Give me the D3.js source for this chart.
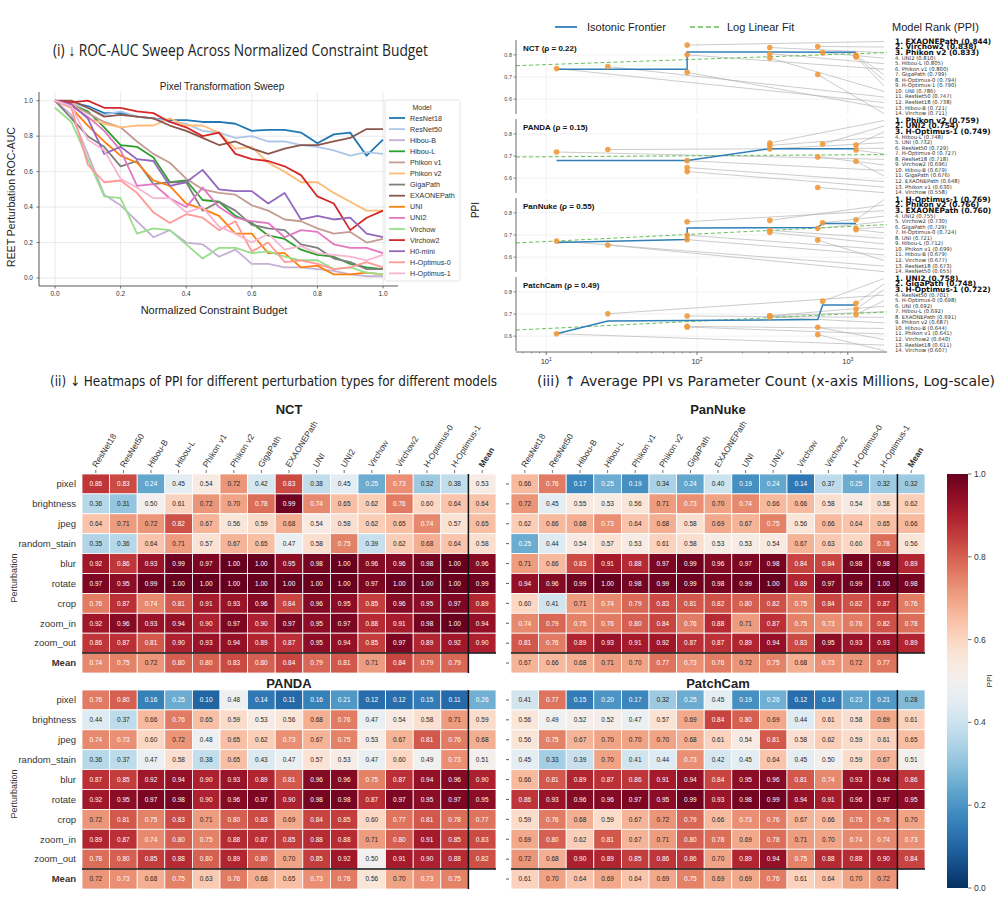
<!DOCTYPE html>
<html>
<head>
<meta charset="utf-8">
<script src="https://d3js.org/d3.v7.min.js"></script>
<style>
  body { margin: 0; background: #fff; }
  svg { font-family: "Liberation Sans", Arial, sans-serif; }
</style>
</head>
<body>
<svg id="fig" width="1000" height="898"></svg>
<script>
// ---------------- data ----------------
const models = ["ResNet18","ResNet50","Hibou-B","Hibou-L","Phikon v1","Phikon v2","GigaPath",
  "EXAONEPath","UNI","UNI2","Virchow","Virchow2","H-Optimus-0","H-Optimus-1"];
const columns = models.concat(["Mean"]);
const perturbations = ["pixel","brightness","jpeg","random_stain","blur","rotate","crop","zoom_in","zoom_out","Mean"];

// (i) sweep
const budget = [0.00,0.05,0.10,0.15,0.20,0.25,0.30,0.35,0.40,0.45,0.50,0.55,0.60,0.65,0.70,0.75,0.80,0.85,0.90,0.95,1.00];
const sweepModels = ["ResNet18","ResNet50","Hibou-B","Hibou-L","Phikon v1","Phikon v2","GigaPath",
  "EXAONEPath","UNI","UNI2","Virchow","Virchow2","H0-mini","H-Optimus-0","H-Optimus-1"];
const sweepResNet18   = [1.00,0.99,0.97,0.93,0.93,0.91,0.90,0.89,0.89,0.88,0.88,0.87,0.83,0.835,0.835,0.82,0.76,0.81,0.82,0.69,0.78];
const sweepResNet50   = [1.00,0.99,0.96,0.92,0.94,0.91,0.90,0.88,0.87,0.83,0.82,0.79,0.80,0.77,0.77,0.75,0.74,0.72,0.69,0.71,0.70];
const sweepHibouB     = [1.00,0.92,0.70,0.47,0.41,0.32,0.23,0.27,0.20,0.19,0.12,0.16,0.08,0.08,0.06,0.06,0.05,0.04,0.02,0.01,0.01];
const sweepHibouL     = [1.00,0.98,0.94,0.85,0.75,0.74,0.68,0.54,0.55,0.44,0.43,0.35,0.31,0.24,0.22,0.16,0.13,0.12,0.08,0.06,0.05];
const sweepPhikonV1   = [1.00,0.98,0.93,0.88,0.85,0.77,0.70,0.65,0.56,0.50,0.48,0.47,0.41,0.38,0.33,0.32,0.28,0.25,0.26,0.20,0.22];
const sweepPhikonV2   = [1.00,0.99,0.90,0.87,0.85,0.86,0.86,0.90,0.86,0.86,0.82,0.73,0.74,0.65,0.60,0.54,0.54,0.48,0.43,0.38,0.38];
const sweepGigaPath   = [1.00,0.90,0.80,0.74,0.63,0.66,0.53,0.54,0.54,0.38,0.43,0.38,0.30,0.28,0.27,0.19,0.17,0.11,0.09,0.05,0.05];
const sweepEXAONEPath = [1.00,1.00,0.96,0.91,0.92,0.91,0.90,0.86,0.83,0.79,0.75,0.77,0.73,0.70,0.73,0.75,0.75,0.77,0.79,0.84,0.84];
const sweepUNI        = [1.00,0.96,0.86,0.77,0.69,0.65,0.55,0.52,0.42,0.39,0.35,0.25,0.25,0.14,0.14,0.06,0.07,0.02,0.02,0.03,0.02];
const sweepUNI2       = [1.00,0.97,0.91,0.83,0.72,0.52,0.53,0.45,0.40,0.51,0.40,0.34,0.32,0.31,0.23,0.27,0.26,0.19,0.17,0.17,0.14];
const sweepVirchow    = [0.96,0.88,0.67,0.46,0.45,0.25,0.28,0.27,0.19,0.11,0.17,0.17,0.14,0.15,0.12,0.10,0.10,0.05,0.06,0.03,0.02];
const sweepVirchow2   = [1.00,0.99,1.00,0.96,0.96,0.94,0.93,0.88,0.85,0.80,0.82,0.70,0.67,0.66,0.63,0.58,0.46,0.42,0.27,0.34,0.38];
const sweepH0mini     = [1.00,0.98,0.90,0.70,0.74,0.67,0.66,0.52,0.54,0.61,0.50,0.49,0.49,0.42,0.48,0.33,0.35,0.33,0.34,0.25,0.23];
const sweepHOptimus0  = [1.00,0.96,0.64,0.54,0.55,0.48,0.37,0.31,0.36,0.34,0.27,0.32,0.15,0.20,0.09,0.10,0.08,0.05,0.06,0.09,0.06];
const sweepHOptimus1  = [1.00,0.97,0.78,0.72,0.56,0.51,0.45,0.45,0.37,0.40,0.29,0.25,0.20,0.25,0.16,0.18,0.14,0.13,0.12,0.10,0.13];
const sweepValues = [sweepResNet18,sweepResNet50,sweepHibouB,sweepHibouL,sweepPhikonV1,sweepPhikonV2,sweepGigaPath,
  sweepEXAONEPath,sweepUNI,sweepUNI2,sweepVirchow,sweepVirchow2,sweepH0mini,sweepHOptimus0,sweepHOptimus1];
const sweepColors = ["#1f77b4","#aec7e8","#c5b0d5","#2ca02c","#c49c94","#ffbb78","#7f7f7f",
  "#8c564b","#ff7f0e","#e377c2","#98df8a","#d62728","#9467bd","#ff9896","#f7b6d2"];

// (iii) params (millions) and rankings
const paramsM = {"ResNet18":11.7,"ResNet50":25.6,"Hibou-B":86,"Hibou-L":304,"Phikon v1":86,"Phikon v2":304,
  "GigaPath":1134,"EXAONEPath":86,"UNI":304,"UNI2":681,"Virchow":632,"Virchow2":632,"H-Optimus-0":1134,"H-Optimus-1":1134};
const datasets = ["NCT","PANDA","PanNuke","PatchCam"];
const rho = [0.22, 0.15, 0.55, 0.49];
const rankNCT = ["EXAONEPath","Virchow2","Phikon v2","UNI2","Hibou-L","Phikon v1","GigaPath","H-Optimus-0","H-Optimus-1","UNI","ResNet50","ResNet18","Hibou-B","Virchow"];
const rankNCTppi = [0.844,0.838,0.833,0.810,0.805,0.800,0.799,0.794,0.790,0.786,0.747,0.738,0.721,0.711];
const rankPANDA = ["Phikon v2","UNI2","H-Optimus-1","Hibou-L","UNI","ResNet50","H-Optimus-0","ResNet18","Virchow2","Hibou-B","GigaPath","EXAONEPath","Phikon v1","Virchow"];
const rankPANDAppi = [0.759,0.754,0.749,0.748,0.732,0.729,0.727,0.718,0.696,0.679,0.676,0.648,0.630,0.558];
const rankPanNuke = ["H-Optimus-1","Phikon v2","EXAONEPath","UNI2","Virchow2","GigaPath","H-Optimus-0","UNI","Hibou-L","Phikon v1","Hibou-B","Virchow","ResNet18","ResNet50"];
const rankPanNukeppi = [0.769,0.766,0.760,0.755,0.730,0.729,0.724,0.721,0.712,0.699,0.679,0.677,0.673,0.655];
const rankPatchCam = ["UNI2","GigaPath","H-Optimus-1","ResNet50","H-Optimus-0","UNI","Hibou-L","EXAONEPath","Phikon v2","Hibou-B","Phikon v1","Virchow2","ResNet18","Virchow"];
const rankPatchCamppi = [0.758,0.748,0.722,0.701,0.698,0.692,0.692,0.691,0.687,0.644,0.641,0.640,0.611,0.607];
// isotonic frontier [params, ppi]
const frontierNCT = [[11.7,0.735],[86,0.735],[86,0.813],[1134,0.812]];
const frontierPANDA = [[11.7,0.680],[86,0.680],[304,0.733],[1134,0.733]];
const frontierPanNuke = [[11.7,0.666],[86,0.680],[86,0.732],[632,0.734],[681,0.752],[1134,0.752]];
const frontierPatchCam = [[11.7,0.611],[25.6,0.668],[632,0.675],[681,0.741],[1134,0.741]];
// log-linear fit: ppi = a + b*log10(params)
const fitA = [0.732, 0.692, 0.637, 0.601];
const fitB = [0.024, 0.0045, 0.0337, 0.0333];

// (ii) heatmaps, rows = perturbations, cols = models + Mean
const heatNCT = [
  [0.86,0.83,0.24,0.45,0.54,0.72,0.42,0.83,0.38,0.45,0.25,0.73,0.32,0.38,0.53],
  [0.36,0.31,0.50,0.61,0.72,0.70,0.78,0.99,0.74,0.65,0.62,0.76,0.60,0.64,0.64],
  [0.64,0.71,0.72,0.82,0.67,0.56,0.59,0.68,0.54,0.58,0.62,0.65,0.74,0.57,0.65],
  [0.35,0.36,0.64,0.71,0.57,0.67,0.65,0.47,0.58,0.75,0.39,0.62,0.68,0.64,0.58],
  [0.92,0.86,0.93,0.99,0.97,1.00,1.00,0.95,0.98,1.00,0.96,0.96,0.98,1.00,0.96],
  [0.97,0.95,0.99,1.00,1.00,1.00,1.00,1.00,1.00,1.00,0.97,1.00,1.00,1.00,0.99],
  [0.76,0.87,0.74,0.81,0.91,0.93,0.96,0.84,0.96,0.95,0.85,0.96,0.95,0.97,0.89],
  [0.92,0.96,0.93,0.94,0.90,0.97,0.90,0.97,0.95,0.97,0.88,0.91,0.98,1.00,0.94],
  [0.86,0.87,0.81,0.90,0.93,0.94,0.89,0.87,0.95,0.94,0.85,0.97,0.89,0.92,0.90],
  [0.74,0.75,0.72,0.80,0.80,0.83,0.80,0.84,0.79,0.81,0.71,0.84,0.79,0.79,null]];
const heatPanNuke = [
  [0.66,0.76,0.17,0.25,0.19,0.34,0.24,0.40,0.19,0.24,0.14,0.37,0.25,0.32,0.32],
  [0.72,0.45,0.55,0.53,0.56,0.71,0.73,0.70,0.74,0.66,0.66,0.58,0.54,0.58,0.62],
  [0.62,0.66,0.68,0.73,0.64,0.68,0.58,0.69,0.67,0.75,0.56,0.66,0.64,0.65,0.66],
  [0.25,0.44,0.54,0.57,0.53,0.61,0.58,0.53,0.53,0.54,0.67,0.63,0.60,0.78,0.56],
  [0.71,0.66,0.83,0.91,0.88,0.97,0.99,0.96,0.97,0.98,0.84,0.84,0.98,0.98,0.89],
  [0.94,0.96,0.99,1.00,0.98,0.99,0.99,0.98,0.99,1.00,0.89,0.97,0.99,1.00,0.98],
  [0.60,0.41,0.71,0.74,0.79,0.83,0.81,0.82,0.80,0.82,0.75,0.84,0.82,0.87,0.76],
  [0.74,0.79,0.75,0.76,0.80,0.84,0.76,0.88,0.71,0.87,0.75,0.73,0.76,0.82,0.78],
  [0.81,0.76,0.89,0.93,0.91,0.92,0.87,0.87,0.89,0.94,0.83,0.95,0.93,0.93,0.89],
  [0.67,0.66,0.68,0.71,0.70,0.77,0.73,0.76,0.72,0.75,0.68,0.73,0.72,0.77,null]];
const heatPANDA = [
  [0.76,0.80,0.16,0.25,0.10,0.48,0.14,0.11,0.16,0.21,0.12,0.12,0.15,0.11,0.26],
  [0.44,0.37,0.66,0.76,0.65,0.59,0.53,0.56,0.68,0.76,0.47,0.54,0.58,0.71,0.59],
  [0.74,0.73,0.60,0.72,0.48,0.65,0.62,0.73,0.67,0.75,0.53,0.67,0.81,0.76,0.68],
  [0.36,0.37,0.47,0.58,0.38,0.65,0.43,0.47,0.57,0.53,0.47,0.60,0.49,0.73,0.51],
  [0.87,0.85,0.92,0.94,0.90,0.93,0.89,0.81,0.96,0.96,0.75,0.87,0.94,0.96,0.90],
  [0.92,0.95,0.97,0.98,0.90,0.96,0.97,0.90,0.98,0.98,0.87,0.97,0.95,0.97,0.95],
  [0.72,0.81,0.75,0.83,0.71,0.80,0.83,0.69,0.84,0.85,0.60,0.77,0.81,0.78,0.77],
  [0.89,0.87,0.74,0.80,0.75,0.88,0.87,0.85,0.88,0.88,0.71,0.80,0.91,0.85,0.83],
  [0.78,0.80,0.85,0.88,0.80,0.89,0.80,0.70,0.85,0.92,0.50,0.91,0.90,0.88,0.82],
  [0.72,0.73,0.68,0.75,0.63,0.76,0.68,0.65,0.73,0.76,0.56,0.70,0.73,0.75,null]];
const heatPatchCam = [
  [0.41,0.77,0.15,0.20,0.17,0.32,0.25,0.45,0.19,0.26,0.12,0.14,0.23,0.21,0.28],
  [0.56,0.49,0.52,0.52,0.47,0.57,0.69,0.84,0.80,0.69,0.44,0.61,0.58,0.69,0.61],
  [0.56,0.75,0.67,0.70,0.70,0.70,0.68,0.61,0.54,0.81,0.58,0.62,0.59,0.61,0.65],
  [0.45,0.33,0.39,0.70,0.41,0.44,0.73,0.42,0.45,0.64,0.45,0.50,0.59,0.67,0.51],
  [0.66,0.81,0.89,0.87,0.86,0.91,0.94,0.84,0.95,0.96,0.81,0.74,0.93,0.94,0.86],
  [0.86,0.93,0.96,0.96,0.97,0.95,0.99,0.93,0.98,0.99,0.94,0.91,0.96,0.97,0.95],
  [0.59,0.76,0.68,0.59,0.67,0.72,0.79,0.66,0.73,0.76,0.67,0.66,0.76,0.76,0.70],
  [0.69,0.80,0.62,0.81,0.67,0.71,0.80,0.78,0.69,0.78,0.71,0.70,0.74,0.74,0.73],
  [0.72,0.68,0.90,0.89,0.85,0.86,0.86,0.70,0.89,0.94,0.75,0.88,0.88,0.90,0.84],
  [0.61,0.70,0.64,0.69,0.64,0.69,0.75,0.69,0.69,0.76,0.61,0.64,0.70,0.72,null]];

// ---------------- drawing ----------------
const svg = d3.select("#fig");
const cond = '"DejaVu Sans Condensed", "Liberation Sans Narrow", "Roboto", sans-serif';

// section titles
svg.append("text").attr("x", 53).attr("y", 56).attr("font-size", 16).attr("fill", "#222")
  .attr("font-family", '"Open Sans", sans-serif')
  .attr("textLength", 375).attr("lengthAdjust", "spacingAndGlyphs")
  .text("(i) \u2193 ROC-AUC Sweep Across Normalized Constraint Budget");
svg.append("text").attr("x", 50).attr("y", 386).attr("font-size", 14).attr("fill", "#222")
  .attr("font-family", cond).attr("textLength", 447).attr("lengthAdjust", "spacingAndGlyphs")
  .text("(ii) \u2193 Heatmaps of PPI for different perturbation types for different models");
svg.append("text").attr("x", 537).attr("y", 386).attr("font-size", 14).attr("fill", "#222")
  .attr("font-family", cond).attr("textLength", 458).attr("lengthAdjust", "spacingAndGlyphs")
  .text("(iii) \u2191 Average PPI vs Parameter Count (x-axis Millions, Log-scale)");

// ---- (i) sweep line chart ----
{
  const g = svg.append("g");
  const x = d3.scaleLinear().domain([0, 1]).range([55, 383]);
  const y = d3.scaleLinear().domain([0, 1]).range([278, 100.7]);
  const left = 39, right = 398, top = 92, bottom = 286;
  const xt = [0, 0.2, 0.4, 0.6, 0.8, 1.0], yt = [0, 0.2, 0.4, 0.6, 0.8, 1.0];
  g.selectAll(".gx").data(xt).join("line").attr("x1", d => x(d)).attr("x2", d => x(d))
    .attr("y1", top).attr("y2", bottom).attr("stroke", "#e3e3e3").attr("stroke-width", 0.8);
  g.selectAll(".gy").data(yt).join("line").attr("y1", d => y(d)).attr("y2", d => y(d))
    .attr("x1", left).attr("x2", right).attr("stroke", "#e3e3e3").attr("stroke-width", 0.8);

  const line = d3.line().x((d, i) => x(budget[i])).y(d => y(d));
  g.selectAll(".ln").data(sweepValues).join("path")
    .attr("d", d => line(d)).attr("fill", "none")
    .attr("stroke", (d, i) => sweepColors[i]).attr("stroke-width", 1.8).attr("stroke-linejoin", "round");

  g.append("line").attr("x1", left).attr("x2", left).attr("y1", top).attr("y2", bottom).attr("stroke", "#444").attr("stroke-width", 0.9);
  g.append("line").attr("x1", left).attr("x2", right).attr("y1", bottom).attr("y2", bottom).attr("stroke", "#444").attr("stroke-width", 0.9);
  g.selectAll(".tx").data(xt).join("text").attr("x", d => x(d)).attr("y", bottom + 10)
    .attr("text-anchor", "middle").attr("font-size", 6.5).attr("fill", "#333").text(d3.format(".1f"));
  g.selectAll(".txm").data(xt).join("line").attr("x1", d => x(d)).attr("x2", d => x(d))
    .attr("y1", bottom).attr("y2", bottom + 2.5).attr("stroke", "#444").attr("stroke-width", 0.7);
  g.selectAll(".ty").data(yt).join("text").attr("x", left - 6).attr("y", d => y(d) + 2.3)
    .attr("text-anchor", "end").attr("font-size", 6.5).attr("fill", "#333").text(d3.format(".1f"));
  g.selectAll(".tym").data(yt).join("line").attr("x1", left - 2.5).attr("x2", left)
    .attr("y1", d => y(d)).attr("y2", d => y(d)).attr("stroke", "#444").attr("stroke-width", 0.7);

  g.append("text").attr("x", 222).attr("y", 90).attr("text-anchor", "middle").attr("font-size", 10)
    .attr("fill", "#222").text("Pixel Transformation Sweep");
  g.append("text").attr("transform", "translate(15,197) rotate(-90)").attr("text-anchor", "middle")
    .attr("font-size", 10.5).attr("fill", "#222").text("REET Perturbation ROC-AUC");
  g.append("text").attr("x", 214).attr("y", 314).attr("text-anchor", "middle").attr("font-size", 11)
    .attr("fill", "#222").text("Normalized Constraint Budget");

  // legend
  const lg = g.append("g");
  lg.append("rect").attr("x", 385).attr("y", 100).attr("width", 75).attr("height", 181).attr("rx", 2)
    .attr("fill", "#fff").attr("stroke", "#ddd").attr("stroke-width", 0.8);
  lg.append("text").attr("x", 422).attr("y", 110).attr("text-anchor", "middle").attr("font-size", 7).attr("fill", "#333").text("Model");
  const items = lg.selectAll(".it").data(sweepModels).join("g")
    .attr("transform", (d, i) => `translate(0,${118 + i * 11.1})`);
  items.append("line").attr("x1", 389).attr("x2", 405).attr("stroke", (d, i) => sweepColors[i]).attr("stroke-width", 1.8);
  items.append("text").attr("x", 410).attr("y", 2.5).attr("font-size", 7.2).attr("fill", "#333").text(d => d);
}

// ---- (iii) PPI vs params ----
{
  const g = svg.append("g");
  const x = d3.scaleLog().domain([6.3, 1820]).range([516, 887]);
  const rankLists = [rankNCT, rankPANDA, rankPanNuke, rankPatchCam];
  const rankVals = [rankNCTppi, rankPANDAppi, rankPanNukeppi, rankPatchCamppi];
  const frontiers = [frontierNCT, frontierPANDA, frontierPanNuke, frontierPatchCam];
  const ph = 74;
  datasets.forEach((ds, k) => {
    const top = 40 + k * 79;
    const y = d3.scaleLinear().domain([0.533, 0.867]).range([top + ph, top]);
    const pg = g.append("g");
    // grid
    pg.selectAll(".gy").data([0.6, 0.7, 0.8]).join("line").attr("x1", 516).attr("x2", 887)
      .attr("y1", d => y(d)).attr("y2", d => y(d)).attr("stroke", "#ebebeb").attr("stroke-width", 0.7);
    pg.selectAll(".gx").data([10, 100, 1000]).join("line").attr("x1", d => x(d)).attr("x2", d => x(d))
      .attr("y1", top).attr("y2", top + ph).attr("stroke", "#ebebeb").attr("stroke-width", 0.7);
    // connector lines to ranks
    const labY = r => top + 1.5 + r * 5.55;
    pg.selectAll(".cn").data(rankLists[k]).join("line")
      .attr("x1", d => x(paramsM[d])).attr("y1", (d, i) => y(rankVals[k][i]))
      .attr("x2", 884).attr("y2", (d, i) => labY(i))
      .attr("stroke", "#aaa").attr("stroke-width", 0.6);
    // fit
    const fitLine = d3.line().x(d => x(d)).y(d => y(fitA[k] + fitB[k] * Math.log10(d)));
    pg.append("path").attr("d", fitLine(x.domain())).attr("fill", "none")
      .attr("stroke", "#6abf5a").attr("stroke-width", 1).attr("stroke-dasharray", "4,2.5");
    // frontier
    const fl = d3.line().x(d => x(d[0])).y(d => y(d[1]));
    pg.append("path").attr("d", fl(frontiers[k])).attr("fill", "none")
      .attr("stroke", "#2f7fb8").attr("stroke-width", 1.5);
    // points
    pg.selectAll(".pt").data(rankLists[k]).join("circle")
      .attr("cx", d => x(paramsM[d])).attr("cy", (d, i) => y(rankVals[k][i])).attr("r", 2.8)
      .attr("fill", "#f0993a").attr("opacity", 0.9);
    // spine & ticks
    pg.append("line").attr("x1", 516).attr("x2", 516).attr("y1", top).attr("y2", top + ph)
      .attr("stroke", "#444").attr("stroke-width", 0.8);
    pg.selectAll(".tk").data([0.6, 0.7, 0.8]).join("line").attr("x1", 513.5).attr("x2", 516)
      .attr("y1", d => y(d)).attr("y2", d => y(d)).attr("stroke", "#444").attr("stroke-width", 0.6);
    pg.selectAll(".tl").data([0.6, 0.7, 0.8]).join("text").attr("x", 512).attr("y", d => y(d) + 2)
      .attr("text-anchor", "end").attr("font-size", 5.5).attr("fill", "#444").text(d3.format(".1f"));
    // title
    pg.append("text").attr("x", 523).attr("y", top + 11).attr("font-size", 8).attr("font-weight", "bold")
      .attr("fill", "#111").text(`${ds} (\u03c1 = ${rho[k].toFixed(2)})`);
    // rank labels
    pg.selectAll(".rk").data(rankLists[k]).join("text")
      .attr("x", 895).attr("y", (d, i) => labY(i)).attr("dominant-baseline", "middle")
      .attr("font-size", (d, i) => i < 3 ? 7.4 : 5.3)
      .attr("font-weight", (d, i) => i < 3 ? "bold" : "normal")
      .attr("font-family", '"DejaVu Sans", sans-serif')
      .attr("fill", (d, i) => i < 3 ? "#111" : "#333")
      .text((d, i) => `${i + 1}. ${d} (${rankVals[k][i].toFixed(3)})`);
  });
  // x axis
  const bottom = 40 + 3 * 79 + ph;
  g.append("line").attr("x1", 516).attr("x2", 887).attr("y1", bottom + 1).attr("y2", bottom + 1).attr("stroke", "#444").attr("stroke-width", 0.8);
  const xticks = [10, 100, 1000];
  const minor = [];
  [1, 10, 100, 1000].forEach(b => { for (let m = 2; m < 10; m++) { const v = b * m; if (v > 6.3 && v < 1820) minor.push(v); } });
  g.selectAll(".mn").data(minor).join("line").attr("x1", d => x(d)).attr("x2", d => x(d))
    .attr("y1", bottom + 1).attr("y2", bottom + 2.5).attr("stroke", "#444").attr("stroke-width", 0.5);
  g.selectAll(".mj").data(xticks).join("line").attr("x1", d => x(d)).attr("x2", d => x(d))
    .attr("y1", bottom + 1).attr("y2", bottom + 4).attr("stroke", "#444").attr("stroke-width", 0.7);
  const xl = g.selectAll(".xl").data(xticks).join("text").attr("x", d => x(d)).attr("y", bottom + 13)
    .attr("text-anchor", "middle").attr("font-size", 7.5).attr("fill", "#333");
  xl.append("tspan").text("10");
  xl.append("tspan").attr("dy", -3.5).attr("font-size", 5).text(d => Math.round(Math.log10(d)));

  g.append("text").attr("transform", "translate(479,210) rotate(-90)").attr("text-anchor", "middle")
    .attr("font-size", 10).attr("fill", "#222").text("PPI");
  // legend
  g.append("line").attr("x1", 555).attr("x2", 577).attr("y1", 27).attr("y2", 27).attr("stroke", "#2f7fb8").attr("stroke-width", 1.8);
  g.append("text").attr("x", 587).attr("y", 31).attr("font-size", 11).attr("fill", "#222").text("Isotonic Frontier");
  g.append("line").attr("x1", 690).attr("x2", 720).attr("y1", 27).attr("y2", 27).attr("stroke", "#6abf5a")
    .attr("stroke-width", 1.5).attr("stroke-dasharray", "5,3");
  g.append("text").attr("x", 727).attr("y", 31).attr("font-size", 11).attr("fill", "#222").text("Log Linear Fit");
  g.append("text").attr("x", 892).attr("y", 31).attr("font-size", 11).attr("fill", "#222").text("Model Rank (PPI)");
}

// ---- (ii) heatmaps ----
const color = d3.scaleSequential(t => d3.interpolateRdBu(1 - t)).domain([0, 1]);
function lum(c) {
  const r = d3.rgb(c);
  const f = v => { v /= 255; return v <= 0.03928 ? v / 12.92 : Math.pow((v + 0.055) / 1.055, 2.4); };
  return 0.2126 * f(r.r) + 0.7152 * f(r.g) + 0.0722 * f(r.b);
}
function heatmap(title, data, x0, y0, rowLabels, colLabels) {
  const g = svg.append("g");
  const x = d3.scaleBand().domain(columns).range([x0, x0 + 414]);
  const y = d3.scaleBand().domain(perturbations).range([y0, y0 + 199]);
  const cells = [];
  data.forEach((row, i) => row.forEach((v, j) => { if (v !== null) cells.push({ r: perturbations[i], c: columns[j], v }); }));
  const cg = g.selectAll(".cell").data(cells).join("g");
  cg.append("rect").attr("x", d => x(d.c)).attr("y", d => y(d.r))
    .attr("width", x.bandwidth()).attr("height", y.bandwidth())
    .attr("fill", d => color(d.v)).attr("stroke", "#fff").attr("stroke-width", 0.8);
  cg.append("text").attr("x", d => x(d.c) + x.bandwidth() / 2).attr("y", d => y(d.r) + y.bandwidth() / 2 + 2.3)
    .attr("text-anchor", "middle").attr("font-size", 6.5)
    .attr("fill", d => lum(color(d.v)) > 0.408 ? "#262626" : "#fff").text(d => d.v.toFixed(2));
  // separators
  g.append("line").attr("x1", x0).attr("x2", x0 + 414).attr("y1", y("Mean")).attr("y2", y("Mean"))
    .attr("stroke", "#111").attr("stroke-width", 1.5);
  g.append("line").attr("x1", x("Mean")).attr("x2", x("Mean")).attr("y1", y0).attr("y2", y0 + 199)
    .attr("stroke", "#111").attr("stroke-width", 1.5);
  // column labels
  if (colLabels) {
    g.selectAll(".ct").data(columns).join("line")
      .attr("x1", d => x(d) + x.bandwidth() / 2).attr("x2", d => x(d) + x.bandwidth() / 2)
      .attr("y1", y0 - 4).attr("y2", y0 - 1).attr("stroke", "#333").attr("stroke-width", 0.7);
    g.selectAll(".cl").data(columns).join("text")
      .attr("transform", d => `translate(${x(d) + x.bandwidth() / 2 + 1},${y0 - 6}) rotate(-58)`)
      .attr("font-size", 8.5).attr("fill", "#333")
      .attr("font-weight", d => d === "Mean" ? "bold" : "normal").text(d => d);
  }
  // row labels / ticks
  if (rowLabels) {
    g.selectAll(".rl").data(perturbations).join("text")
      .attr("x", x0 - 6).attr("y", d => y(d) + y.bandwidth() / 2 + 3.3)
      .attr("text-anchor", "end").attr("font-size", 9.5).attr("fill", "#333")
      .attr("font-weight", d => d === "Mean" ? "bold" : "normal").text(d => d);
    g.append("text").attr("transform", `translate(17,${y0 + 104}) rotate(-90)`).attr("text-anchor", "middle")
      .attr("font-size", 9).attr("fill", "#333").text("Perturbation");
  } else {
    g.selectAll(".rt").data(perturbations).join("line")
      .attr("x1", x0 - 5).attr("x2", x0 - 2).attr("y1", d => y(d) + y.bandwidth() / 2).attr("y2", d => y(d) + y.bandwidth() / 2)
      .attr("stroke", "#333").attr("stroke-width", 0.8);
  }
  g.append("text").attr("x", x0 + 207).attr("y", y0 - (colLabels ? 60 : 2))
    .attr("text-anchor", "middle").attr("font-size", 13).attr("font-weight", "bold").attr("fill", "#222").text(title);
}
heatmap("NCT", heatNCT, 82, 474, true, true);
heatmap("PanNuke", heatPanNuke, 511, 474, false, true);
heatmap("PANDA", heatPANDA, 82, 690, true, false);
heatmap("PatchCam", heatPatchCam, 511, 690, false, false);

// colorbar
{
  const g = svg.append("g");
  const cy = d3.scaleLinear().domain([0, 1]).range([888, 474]);
  const grad = svg.append("defs").append("linearGradient").attr("id", "cb")
    .attr("x1", 0).attr("y1", 1).attr("x2", 0).attr("y2", 0);
  d3.range(0, 1.0001, 0.05).forEach(t => grad.append("stop").attr("offset", t).attr("stop-color", color(t)));
  g.append("rect").attr("x", 947).attr("y", 474).attr("width", 21).attr("height", 414).attr("fill", "url(#cb)");
  const ticks = [0, 0.2, 0.4, 0.6, 0.8, 1.0];
  g.selectAll(".t").data(ticks).join("line").attr("x1", 968).attr("x2", 971.5)
    .attr("y1", d => cy(d)).attr("y2", d => cy(d)).attr("stroke", "#333").attr("stroke-width", 0.7);
  g.selectAll(".l").data(ticks).join("text").attr("x", 974).attr("y", d => cy(d) + 3)
    .attr("font-size", 8.5).attr("fill", "#333").text(d3.format(".1f"));
  g.append("text").attr("transform", "translate(992,681) rotate(-90)").attr("text-anchor", "middle")
    .attr("font-size", 8).attr("fill", "#333").text("PPI");
}
</script>
</body>
</html>
